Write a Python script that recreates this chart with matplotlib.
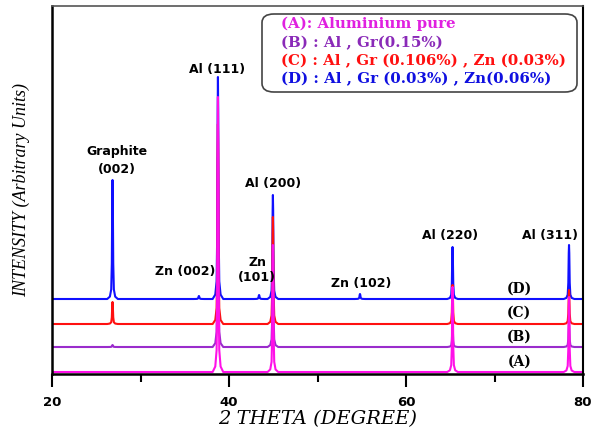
import matplotlib.pyplot as plt
from matplotlib.patches import FancyBboxPatch

# peak positions (2 theta, degrees)
peak_pos = [26.84, 36.6, 38.75, 43.4, 44.96, 54.8, 65.26, 78.42]

# peak heights per sample (arbitrary units), same order as peak_pos
heights_A = [0, 0, 275, 0, 127, 0, 85, 75]
heights_B = [2, 0, 190, 0, 95, 0, 20, 25]
heights_C = [22, 0, 200, 0, 107, 0, 39, 34]
heights_D = [119, 3, 222, 4, 104, 5, 52, 54]

# vertical offsets of each pattern
offsets = {'A': 0, 'B': 25, 'C': 48, 'D': 73}

# profile of one sharp peak: offset in degrees, fraction of height
shape_dx = [-0.6, -0.3, -0.15, -0.08, -0.03, 0, 0.03, 0.08, 0.15, 0.3, 0.6]
shape_f = [0, 0.02, 0.08, 0.3, 0.85, 1, 0.85, 0.3, 0.08, 0.02, 0]

colors = {'A': '#ff10e8', 'B': '#9a2ccc', 'C': '#ff1010', 'D': '#1010ff'}


def pattern(heights, base):
    xs = [20.0]
    ys = [base]
    for p, h in zip(peak_pos, heights):
        if h == 0:
            continue
        for dx, f in zip(shape_dx, shape_f):
            xs.append(p + dx)
            ys.append(base + h * f)
    xs.append(80.0)
    ys.append(base)
    return xs, ys


fig = plt.figure(figsize=(5.96, 4.29), dpi=100)
ax = fig.add_axes([52 / 596, 1 - 374 / 429, 531 / 596, 368 / 429])

for key, hts in [('D', heights_D), ('C', heights_C), ('B', heights_B), ('A', heights_A)]:
    xs, ys = pattern(hts, offsets[key])
    ax.plot(xs, ys, color=colors[key], lw=1.5)

ax.set_xlim(20, 80)
ax.set_ylim(-2, 366)
ax.set_xticks([20, 40, 60, 80])
ax.set_xticks([30, 50, 70], minor=True)
ax.set_yticks([])
ax.tick_params(axis='x', which='major', direction='out', length=9, width=1.5, pad=7)
ax.tick_params(axis='x', which='minor', direction='out', length=6, width=1.5)
for lab in ax.get_xticklabels():
    lab.set_fontfamily('DejaVu Sans')
    lab.set_fontweight('bold')
    lab.set_fontsize(9.5)
for s in ['left', 'bottom']:
    ax.spines[s].set_linewidth(1.8)
ax.spines['right'].set_linewidth(1.5)
ax.spines['top'].set_linewidth(1.2)
ax.spines['top'].set_color('#555555')

ax.set_xlabel('2 THETA (DEGREE)', family='DejaVu Serif', style='italic', fontsize=14)
ax.xaxis.set_label_coords(0.5, -0.122)
ax.xaxis.label.set_va('center')
ax.set_ylabel('INTENSITY (Arbitrary Units)', family='Liberation Serif', style='italic', fontsize=13, labelpad=16)

# peak labels
lab_kw = dict(family='DejaVu Sans', weight='bold', fontsize=9, ha='center', va='center')
ax.text(27.3, 221, 'Graphite', **lab_kw)
ax.text(27.3, 203, '(002)', **lab_kw)
ax.text(38.7, 303, 'Al (111)', **lab_kw)
ax.text(45.0, 188, 'Al (200)', **lab_kw)
ax.text(35.0, 100, 'Zn (002)', **lab_kw)
ax.text(43.2, 109, 'Zn', **lab_kw)
ax.text(43.2, 94, '(101)', **lab_kw)
ax.text(54.9, 89, 'Zn (102)', **lab_kw)
ax.text(65.0, 137, 'Al (220)', **lab_kw)
ax.text(76.3, 137, 'Al (311)', **lab_kw)

# sample labels
s_kw = dict(family='DejaVu Serif', weight='bold', fontsize=10, ha='center', va='center')
ax.text(72.8, 83, '(D)', **s_kw)
ax.text(72.8, 59, '(C)', **s_kw)
ax.text(72.8, 35, '(B)', **s_kw)
ax.text(72.8, 10, '(A)', **s_kw)

# legend box
box = FancyBboxPatch((262 / 596, 1 - 92 / 429), 315 / 596, 78 / 429,
                     boxstyle='round,pad=0,rounding_size=0.02',
                     transform=fig.transFigure, fc='white', ec='#444444', lw=1.2)
fig.patches.append(box)
leg_lines = ['(A): Aluminium pure', '(B) : Al , Gr(0.15%)',
             '(C) : Al , Gr (0.106%) , Zn (0.03%)', '(D) : Al , Gr (0.03%) , Zn(0.06%)']
leg_colors = ['#e020e0', '#8a2ab8', '#ff1010', '#1010e0']
leg_y = [24, 43, 61, 79]
for t, c, yy in zip(leg_lines, leg_colors, leg_y):
    fig.text(281 / 596, 1 - yy / 429, t, color=c, family='DejaVu Serif',
             weight='bold', fontsize=10.8, ha='left', va='center')

fig.savefig('out.png', dpi=100)
